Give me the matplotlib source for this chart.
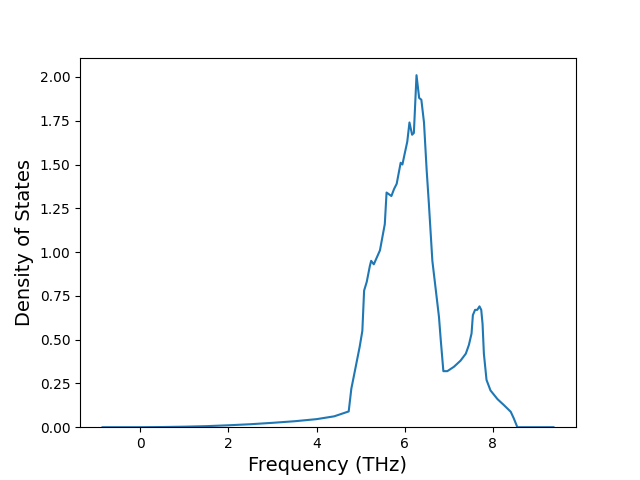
import numpy as np
import matplotlib.pyplot as plt

freq = [-0.86, 0.0, 0.5, 1.0, 1.5, 2.0, 2.5, 3.0, 3.5, 4.0, 4.4, 4.73,
        4.79, 4.83, 4.98, 5.04, 5.08, 5.14, 5.21, 5.24, 5.30, 5.44, 5.55,
        5.59, 5.70, 5.76, 5.82, 5.91, 5.95, 6.00, 6.06, 6.11, 6.17, 6.21,
        6.27, 6.33, 6.38, 6.44, 6.50, 6.55, 6.63, 6.78, 6.82, 6.88, 6.97,
        7.12, 7.27, 7.39, 7.46, 7.52, 7.55, 7.60, 7.65, 7.70, 7.74, 7.77,
        7.80, 7.86, 7.95, 8.11, 8.26, 8.41, 8.48, 8.56, 9.38]
dos = [0.0, 0.0, 0.001, 0.003, 0.006, 0.011, 0.017, 0.025, 0.034, 0.046, 0.062, 0.09,
       0.22, 0.27, 0.46, 0.55, 0.78, 0.83, 0.92, 0.95, 0.93, 1.01, 1.16,
       1.34, 1.32, 1.36, 1.39, 1.51, 1.50, 1.56, 1.63, 1.74, 1.67, 1.68,
       2.01, 1.88, 1.87, 1.74, 1.47, 1.28, 0.95, 0.63, 0.50, 0.32, 0.32,
       0.345, 0.38, 0.42, 0.47, 0.535, 0.64, 0.67, 0.67, 0.69, 0.67, 0.59,
       0.42, 0.27, 0.21, 0.16, 0.125, 0.088, 0.05, 0.0, 0.0]

fig, ax = plt.subplots()
ax.plot(freq, dos)
ax.set_ylim(bottom=0)
ax.set_xlabel('Frequency (THz)', fontsize=14)
ax.set_ylabel('Density of States', fontsize=14)
plt.savefig('out.png')
